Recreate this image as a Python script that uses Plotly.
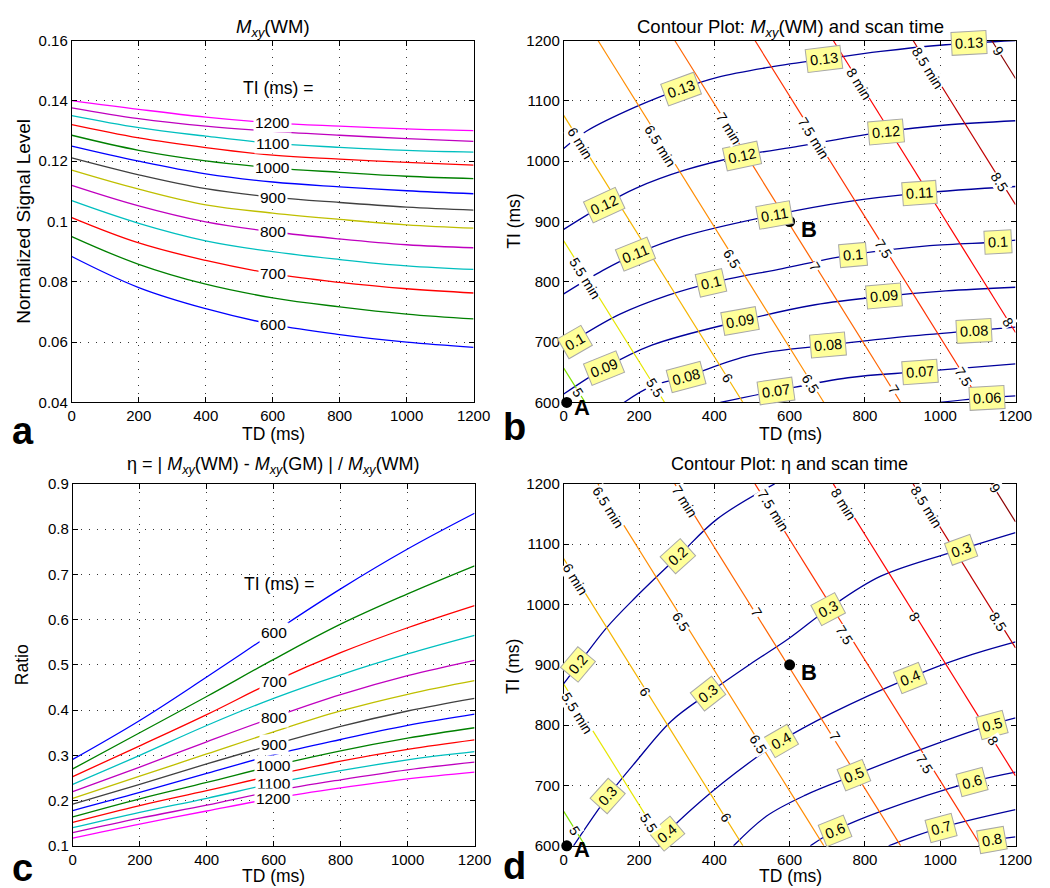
import plotly.graph_objects as go

# TD grid (ms) and TI values (ms)
td = [0, 200, 400, 600, 800, 1000, 1200]
ti = [600, 650, 700, 750, 800, 850, 900, 950, 1000, 1050, 1100, 1150, 1200]

# Mxy(WM) vs TD, one list per TI
mxy_600 = [0.0884, 0.0781, 0.0711, 0.0659, 0.0625, 0.0600, 0.0583]
mxy_650 = [0.0950, 0.0858, 0.0792, 0.0747, 0.0717, 0.0693, 0.0677]
mxy_700 = [0.1013, 0.0929, 0.0871, 0.0827, 0.0798, 0.0777, 0.0763]
mxy_750 = [0.1069, 0.0994, 0.0936, 0.0900, 0.0874, 0.0853, 0.0841]
mxy_800 = [0.1120, 0.1052, 0.0999, 0.0966, 0.0942, 0.0923, 0.0913]
mxy_850 = [0.1170, 0.1107, 0.1055, 0.1028, 0.1007, 0.0989, 0.0978]
mxy_900 = [0.1211, 0.1155, 0.1109, 0.1081, 0.1063, 0.1048, 0.1038]
mxy_950 = [0.1250, 0.1200, 0.1158, 0.1131, 0.1115, 0.1102, 0.1092]
mxy_1000 = [0.1286, 0.1236, 0.1201, 0.1178, 0.1163, 0.1150, 0.1142]
mxy_1050 = [0.1321, 0.1277, 0.1245, 0.1220, 0.1207, 0.1196, 0.1187]
mxy_1100 = [0.1351, 0.1311, 0.1283, 0.1259, 0.1246, 0.1236, 0.1230]
mxy_1150 = [0.1377, 0.1341, 0.1316, 0.1299, 0.1286, 0.1275, 0.1266]
mxy_1200 = [0.1401, 0.1372, 0.1346, 0.1327, 0.1316, 0.1307, 0.1301]

# eta = |Mxy(WM) - Mxy(GM)| / Mxy(WM) vs TD, one list per TI
eta_600 = [0.291, 0.377, 0.473, 0.572, 0.668, 0.756, 0.835]
eta_650 = [0.270, 0.350, 0.430, 0.512, 0.590, 0.657, 0.719]
eta_700 = [0.253, 0.321, 0.390, 0.463, 0.527, 0.582, 0.631]
eta_750 = [0.236, 0.300, 0.366, 0.426, 0.478, 0.524, 0.565]
eta_800 = [0.220, 0.274, 0.330, 0.384, 0.434, 0.476, 0.510]
eta_850 = [0.205, 0.254, 0.303, 0.352, 0.398, 0.435, 0.465]
eta_900 = [0.192, 0.236, 0.281, 0.324, 0.364, 0.398, 0.426]
eta_950 = [0.178, 0.218, 0.260, 0.301, 0.335, 0.366, 0.391]
eta_1000 = [0.164, 0.204, 0.240, 0.277, 0.310, 0.338, 0.361]
eta_1050 = [0.152, 0.189, 0.222, 0.256, 0.287, 0.313, 0.334]
eta_1100 = [0.140, 0.174, 0.205, 0.238, 0.266, 0.290, 0.308]
eta_1150 = [0.129, 0.161, 0.190, 0.221, 0.246, 0.268, 0.285]
eta_1200 = [0.117, 0.148, 0.177, 0.205, 0.228, 0.248, 0.263]

mxy_curves = [mxy_600, mxy_650, mxy_700, mxy_750, mxy_800, mxy_850, mxy_900,
              mxy_950, mxy_1000, mxy_1050, mxy_1100, mxy_1150, mxy_1200]
eta_curves = [eta_600, eta_650, eta_700, eta_750, eta_800, eta_850, eta_900,
              eta_950, eta_1000, eta_1050, eta_1100, eta_1150, eta_1200]

curve_colors = ['#0000ff', '#008000', '#ff0000', '#00bfbf', '#bf00bf', '#bfbf00', '#404040',
                '#0000ff', '#008000', '#ff0000', '#00bfbf', '#bf00bf', '#ff00ff']

# Mxy(WM) iso-lines in the TD-TI plane (panel b)
mxy_c13_td = [0, 61, 191, 312, 408, 538, 690, 842, 1015, 1200]
mxy_c13_ti = [1021, 1050, 1090, 1120, 1139, 1155, 1169, 1182, 1193, 1200]
mxy_c12_td = [0, 108, 191, 321, 473, 625, 855, 1015, 1200]
mxy_c12_ti = [887, 928, 955, 985, 1009, 1025, 1049, 1060, 1067]
mxy_c11_td = [0, 104, 191, 321, 560, 755, 946, 1200]
mxy_c11_ti = [780, 819, 846, 876, 911, 933, 947, 958]
mxy_c10_td = [0, 30, 148, 278, 390, 581, 768, 972, 1154, 1200]
mxy_c10_ti = [692, 704, 746, 778, 798, 822, 845, 860, 866, 869]
mxy_c09_td = [0, 108, 234, 469, 668, 850, 1015, 1200]
mxy_c09_ti = [614, 657, 695, 735, 762, 776, 785, 791]
mxy_c08_td = [160, 234, 325, 495, 703, 885, 1089, 1200]
mxy_c08_ti = [600, 627, 643, 678, 695, 708, 719, 725]
mxy_c07_td = [416, 564, 755, 946, 1200]
mxy_c07_ti = [600, 619, 641, 651, 664]
mxy_c06_td = [998, 1124, 1200]
mxy_c06_ti = [600, 608, 611]

# eta iso-lines in the TD-TI plane (panel d)
eta_c2_td = [0, 39, 113, 191, 304, 408, 560]
eta_c2_ti = [869, 901, 961, 1012, 1080, 1142, 1200]
eta_c3_td = [26, 117, 191, 286, 382, 495, 599, 703, 842, 1054, 1200]
eta_c3_ti = [600, 682, 739, 807, 852, 901, 944, 993, 1047, 1091, 1119]
eta_c4_td = [252, 273, 364, 495, 577, 712, 920, 1059, 1200]
eta_c4_ti = [600, 620, 674, 739, 774, 820, 879, 912, 938]
eta_c5_td = [451, 538, 642, 772, 928, 1137, 1200]
eta_c5_ti = [600, 649, 684, 717, 755, 801, 812]
eta_c6_td = [655, 720, 842, 1085, 1200]
eta_c6_ti = [600, 625, 657, 706, 722]
eta_c7_td = [863, 1002, 1200]
eta_c7_ti = [600, 630, 660]
eta_c8_td = [1102, 1137, 1200]
eta_c8_ti = [600, 609, 615]

# scan time contours: level (min) and TI+TD (ms)
scan_levels = [5, 5.5, 6, 6.5, 7, 7.5, 8, 8.5, 9]
scan_sum = [657, 868, 1076, 1291, 1495, 1708, 1916, 2128, 2337]
scan_colors = ['#80e000', '#e6e600', '#f5b400', '#ff8c00', '#ff6400', '#ff3000',
               '#ff0000', '#c00000', '#8b0000']

# contour label positions (panel b: Mxy)
b_lab_td = [312, 690, 1076, 108, 473, 855, 191, 560, 946, 30, 390, 768, 1154,
            108, 469, 850, 325, 703, 1089, 564, 946, 1124]
b_lab_ti = [1120, 1169, 1196, 928, 1009, 1049, 846, 911, 947, 700, 798, 845, 866,
            657, 735, 776, 643, 695, 719, 619, 651, 608]
b_lab_txt = ['0.13', '0.13', '0.13', '0.12', '0.12', '0.12', '0.11', '0.11', '0.11',
             '0.1', '0.1', '0.1', '0.1', '0.09', '0.09', '0.09', '0.08', '0.08', '0.08',
             '0.07', '0.07', '0.06']
b_lab_ang = [-20, -7, -3, -25, -12, -5, -22, -10, -4, -30, -13, -5, -3,
             -22, -10, -5, -15, -5, -3, -8, -4, -3]

b_scan_td = [43, 256, 438, 664, 785, 967, 1154, 56, 39, 243, 436, 655, 876, 1063, 1180, 1158, 447, 668, 850]
b_scan_ti = [1030, 1025, 1055, 1039, 1128, 1155, 1182, 806, 616, 624, 641, 630, 622, 643, 733, 966, 838, 825, 855]
b_scan_txt = ['6 min', '6.5 min', '7 min', '7.5 min', '8 min', '8.5 min', '9', '5.5 min', '5',
              '5.5', '6', '6.5', '7', '7.5', '8', '8.5', '6.5', '7', '7.5']

# contour label positions (panel d: eta)
d_lab_td = [304, 39, 703, 1054, 382, 117, 920, 577, 273, 1137, 772, 1085, 720, 1002, 1137]
d_lab_ti = [1080, 901, 993, 1091, 852, 682, 879, 774, 620, 801, 717, 706, 625, 630, 609]
d_lab_txt = ['0.2', '0.2', '0.3', '0.3', '0.3', '0.3', '0.4', '0.4', '0.4', '0.5', '0.5',
             '0.6', '0.6', '0.7', '0.8']
d_lab_ang = [-42, -50, -28, -20, -38, -48, -22, -30, -40, -15, -22, -15, -22, -15, -10]

d_scan_td = [117, 321, 555, 742, 963, 1145, 30, 312, 512, 746, 933, 1154, 35, 217, 516, 720, 959, 1141, 30, 226, 430]
d_scan_ti = [1161, 1172, 1156, 1166, 1161, 1193, 1042, 971, 988, 950, 980, 971, 820, 855, 768, 782, 736, 774, 625, 638, 647]
d_scan_txt = ['6.5 min', '7 min', '7.5 min', '8 min', '8.5 min', '9', '6 min', '6.5', '7', '7.5', '8',
              '8.5', '5.5 min', '6', '6.5', '7', '7.5', '8', '5', '5.5', '6']

# operating points A and B
pt_td = [8, 600]
pt_ti = [600, 900]

W, H = 1050, 888
FONT = 'Liberation Sans, Arial, Helvetica, sans-serif'
NAVY = '#00009c'


def px_x(l, r):
    return [l / W, r / W]


def px_y(t, b):
    return [1 - b / H, 1 - t / H]


fig = go.Figure()

# panels a and c: curves
for k in range(len(ti)):
    fig.add_trace(go.Scatter(x=td, y=mxy_curves[k], mode='lines', xaxis='x', yaxis='y',
                             line=dict(color=curve_colors[k], width=1.3, shape='spline', smoothing=1.1),
                             showlegend=False, hoverinfo='skip'))
    fig.add_trace(go.Scatter(x=td, y=eta_curves[k], mode='lines', xaxis='x3', yaxis='y3',
                             line=dict(color=curve_colors[k], width=1.3, shape='spline', smoothing=1.1),
                             showlegend=False, hoverinfo='skip'))

# panels b and d: iso-lines
b_lines = [(mxy_c13_td, mxy_c13_ti), (mxy_c12_td, mxy_c12_ti), (mxy_c11_td, mxy_c11_ti),
           (mxy_c10_td, mxy_c10_ti), (mxy_c09_td, mxy_c09_ti), (mxy_c08_td, mxy_c08_ti),
           (mxy_c07_td, mxy_c07_ti), (mxy_c06_td, mxy_c06_ti)]
d_lines = [(eta_c2_td, eta_c2_ti), (eta_c3_td, eta_c3_ti), (eta_c4_td, eta_c4_ti),
           (eta_c5_td, eta_c5_ti), (eta_c6_td, eta_c6_ti), (eta_c7_td, eta_c7_ti),
           (eta_c8_td, eta_c8_ti)]
for xa, ya, lines in [('x2', 'y2', b_lines), ('x4', 'y4', d_lines)]:
    for lx, ly in lines:
        fig.add_trace(go.Scatter(x=lx, y=ly, mode='lines', xaxis=xa, yaxis=ya,
                                 line=dict(color=NAVY, width=1.3, shape='spline', smoothing=1.0),
                                 showlegend=False, hoverinfo='skip'))

# scan time lines
for xa, ya in [('x2', 'y2'), ('x4', 'y4')]:
    for lev, s, col in zip(scan_levels, scan_sum, scan_colors):
        x0 = max(0, s - 1200)
        x1 = min(1200, s - 600)
        fig.add_trace(go.Scatter(x=[x0, x1], y=[s - x0, s - x1], mode='lines', xaxis=xa, yaxis=ya,
                                 line=dict(color=col, width=1.2), showlegend=False, hoverinfo='skip'))
    fig.add_trace(go.Scatter(x=pt_td, y=pt_ti, mode='markers', xaxis=xa, yaxis=ya, cliponaxis=False,
                             marker=dict(color='black', size=11), showlegend=False, hoverinfo='skip'))

axis_style = dict(showline=True, linecolor='black', linewidth=1, mirror='ticks', ticks='inside',
                  ticklen=5, tickcolor='black', showgrid=True, gridcolor='#333333', gridwidth=1,
                  griddash='1px,7px', zeroline=False, tickfont=dict(size=15, color='black', family=FONT))

xt = [0, 200, 400, 600, 800, 1000, 1200]
layout = dict(
    width=W, height=H, margin=dict(l=0, r=0, t=0, b=0),
    paper_bgcolor='white', plot_bgcolor='white', showlegend=False,
    font=dict(family=FONT, color='black'),
    xaxis=dict(domain=px_x(61, 471), range=[0, 1200], tickvals=xt, anchor='y', **axis_style),
    yaxis=dict(domain=px_y(24, 393), range=[0.04, 0.16], anchor='x',
               tickvals=[0.04, 0.06, 0.08, 0.1, 0.12, 0.14, 0.16],
               ticktext=['0.04', '0.06', '0.08', '0.1', '0.12', '0.14', '0.16'], **axis_style),
    xaxis2=dict(domain=px_x(563, 1024), range=[0, 1200], tickvals=xt, anchor='y2', **axis_style),
    yaxis2=dict(domain=px_y(24, 393), range=[600, 1200], dtick=100, anchor='x2', **axis_style),
    xaxis3=dict(domain=px_x(62, 472), range=[0, 1200], tickvals=xt, anchor='y3', **axis_style),
    yaxis3=dict(domain=px_y(476, 845), range=[0.1, 0.9], anchor='x3',
                tickvals=[0.1, 0.2, 0.3, 0.4, 0.5, 0.6, 0.7, 0.8, 0.9],
                ticktext=['0.1', '0.2', '0.3', '0.4', '0.5', '0.6', '0.7', '0.8', '0.9'], **axis_style),
    xaxis4=dict(domain=px_x(563, 1024), range=[0, 1200], tickvals=xt, anchor='y4', **axis_style),
    yaxis4=dict(domain=px_y(476, 845), range=[600, 1200], dtick=100, anchor='x4', **axis_style),
)

ann = []


def paper_text(x, y, text, size, angle=0, bold=False):
    ann.append(dict(x=x / W, y=1 - y / H, xref='paper', yref='paper', text=f'<b>{text}</b>' if bold else text,
                    showarrow=False, textangle=angle, xanchor='center', yanchor='middle',
                    font=dict(size=size, color='black', family=FONT)))


mxy = '<i>M<sub>xy</sub></i>'
paper_text(266, 11, mxy + '(WM)', 18.5)
paper_text(794, 11, 'Contour Plot: ' + mxy + '(WM) and scan time', 18.5)
paper_text(267, 457, 'η = | ' + mxy + '(WM) - ' + mxy + '(GM) | / ' + mxy + '(WM)', 18)
paper_text(793, 456, 'Contour Plot: η and scan time', 18)
for x, y in [(267, 425), (794, 425), (267, 876), (794, 876)]:
    paper_text(x, y, 'TD (ms)', 17.5)
paper_text(11, 208, 'Normalized Signal Level', 19, -90)
paper_text(512, 208, 'TI (ms)', 17.5, -90)
paper_text(11, 660, 'Ratio', 17.5, -90)
paper_text(512, 662, 'TI (ms)', 17.5, -90)
paper_text(11, 422, 'a', 38, bold=True)
paper_text(513, 418, 'b', 38, bold=True)
paper_text(11, 868, 'c', 38, bold=True)
paper_text(513, 866, 'd', 38, bold=True)
for x, y, t in [(582, 398, 'A'), (813, 217, 'B'), (582, 849, 'A'), (813, 668, 'B')]:
    paper_text(x, y, t, 22, bold=True)

# curve labels in a and c (every 100 ms of TI, at TD = 600)
for xa, ya, curves, head_y in [('x', 'y', mxy_curves, 0.1442), ('x3', 'y3', eta_curves, 0.678)]:
    ann.append(dict(x=616, y=head_y, xref=xa, yref=ya, text='TI (ms) =', showarrow=False,
                    font=dict(size=17.5, color='black', family=FONT)))
    for k in range(0, len(ti), 2):
        ann.append(dict(x=600, y=curves[k][3], xref=xa, yref=ya, text=str(ti[k]), showarrow=False,
                        bgcolor='white', borderpad=1, font=dict(size=15.5, color='black', family=FONT)))

# contour labels
for xa, ya, ltd, lti, ltxt, lang in [('x2', 'y2', b_lab_td, b_lab_ti, b_lab_txt, b_lab_ang),
                                     ('x4', 'y4', d_lab_td, d_lab_ti, d_lab_txt, d_lab_ang)]:
    for x, y, t, a in zip(ltd, lti, ltxt, lang):
        ann.append(dict(x=x, y=y, xref=xa, yref=ya, text=t, showarrow=False, textangle=a,
                        bgcolor='#ffff99', bordercolor='#a8a8a8', borderwidth=1, borderpad=3,
                        font=dict(size=14.5, color='black', family=FONT)))

for xa, ya, std, sti, stxt in [('x2', 'y2', b_scan_td, b_scan_ti, b_scan_txt),
                               ('x4', 'y4', d_scan_td, d_scan_ti, d_scan_txt)]:
    for x, y, t in zip(std, sti, stxt):
        ann.append(dict(x=x, y=y, xref=xa, yref=ya, text=t, showarrow=False, textangle=58,
                        bgcolor='white', borderpad=0, font=dict(size=14, color='black', family=FONT)))

layout['annotations'] = ann
fig.update_layout(**layout)
fig.write_html('out.html')
